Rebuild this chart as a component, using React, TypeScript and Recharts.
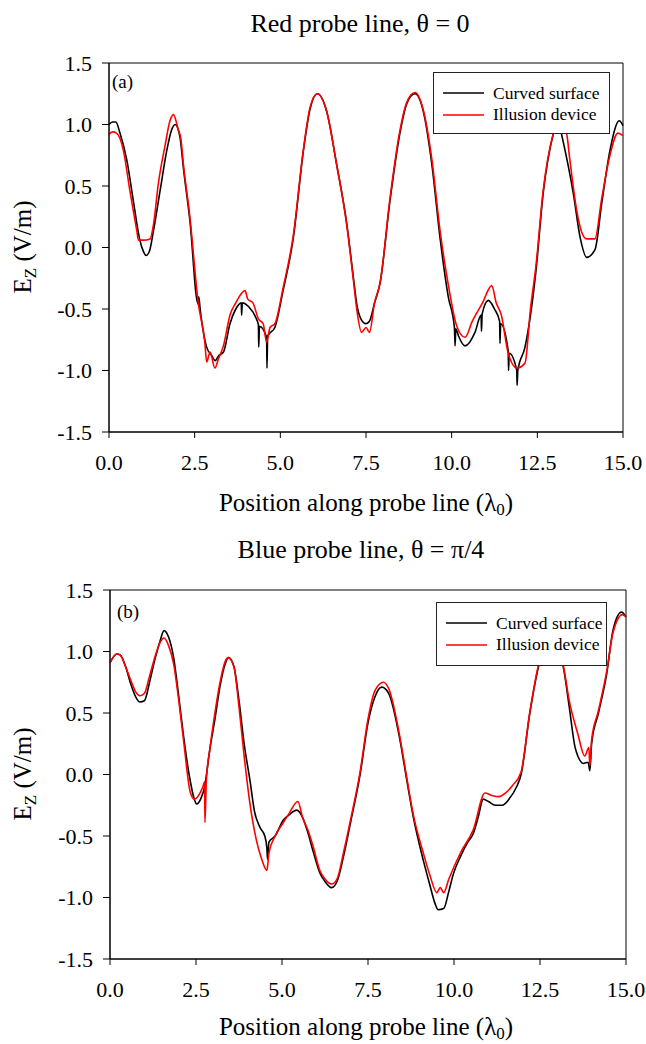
import React from "react";
import { LineChart, Line, XAxis, YAxis, ReferenceArea } from "recharts";

const X_TICKS = [0, 2.5, 5, 7.5, 10, 12.5, 15];
const Y_TICKS = [-1.5, -1, -0.5, 0, 0.5, 1, 1.5];
const SERIES_NAMES = ["Curved surface", "Illusion device"];
const SERIES_COLORS = ["#000000", "#ff0000"];
const PANEL_TITLES = ["Red probe line, \u03b8 = 0", "Blue probe line, \u03b8 = \u03c0/4"];
const PANEL_TAGS = ["(a)", "(b)"];

// Panel (a): red probe line, theta = 0
const redLineCurved: [number, number][] = [
  [0, 1.0], [0.1, 1.02], [0.2, 1.02], [0.32, 0.93], [0.52, 0.71], [0.71, 0.38], [0.9, 0.06],
  [1.0, -0.03], [1.08, -0.065], [1.18, -0.03], [1.3, 0.14], [1.49, 0.46], [1.68, 0.78],
  [1.82, 0.95], [1.93, 1.0], [2.07, 0.9], [2.17, 0.65], [2.36, 0.22], [2.6, -0.46],
  [2.62, -0.4], [2.66, -0.5], [2.85, -0.81], [3.0, -0.88], [3.1, -0.92], [3.2, -0.88],
  [3.34, -0.85], [3.53, -0.62], [3.7, -0.5], [3.86, -0.45], [3.87, -0.55], [3.89, -0.45],
  [4.07, -0.48], [4.3, -0.58], [4.36, -0.63], [4.37, -0.81], [4.39, -0.64], [4.6, -0.73],
  [4.61, -0.98], [4.63, -0.72], [4.84, -0.65], [5.08, -0.35], [5.38, 0.08], [5.67, 0.78],
  [5.87, 1.13], [6.08, 1.25], [6.35, 1.11], [6.64, 0.68], [6.94, 0.19], [7.13, -0.24],
  [7.23, -0.46], [7.37, -0.59], [7.5, -0.62], [7.6, -0.6], [7.75, -0.45], [7.91, -0.29],
  [8.2, 0.38], [8.49, 0.93], [8.69, 1.17], [8.93, 1.25], [9.17, 1.11], [9.42, 0.68],
  [9.66, 0.08], [9.9, -0.4], [10.08, -0.65], [10.1, -0.8], [10.12, -0.66], [10.2, -0.72],
  [10.39, -0.8], [10.68, -0.69], [10.86, -0.55], [10.87, -0.68], [10.89, -0.54], [11.07, -0.43],
  [11.25, -0.5], [11.4, -0.6], [11.41, -0.78], [11.43, -0.62], [11.65, -0.84], [11.66, -1.0],
  [11.68, -0.86], [11.9, -1.0], [11.91, -1.12], [11.93, -1.0], [12.14, -0.81], [12.46, -0.19],
  [12.67, 0.44], [12.97, 0.93], [13.1, 1.05], [13.2, 0.93], [13.55, 0.44], [13.75, 0.08],
  [13.94, -0.08], [14.18, -0.02], [14.38, 0.36], [14.62, 0.79], [14.89, 1.03], [15, 0.99],
];

const redLineIllusion: [number, number][] = [
  [0, 0.92], [0.1, 0.94], [0.22, 0.93], [0.42, 0.79], [0.61, 0.46], [0.81, 0.14], [0.86, 0.06],
  [1.0, 0.06], [1.2, 0.07], [1.3, 0.19], [1.44, 0.52], [1.63, 0.82], [1.78, 1.03], [1.88, 1.08],
  [2.02, 0.96], [2.1, 0.88], [2.17, 0.68], [2.36, 0.25], [2.6, -0.44], [2.8, -0.78], [2.85, -0.93],
  [2.95, -0.85], [3.09, -0.98], [3.2, -0.9], [3.34, -0.8], [3.53, -0.55], [3.7, -0.45],
  [3.85, -0.38], [3.97, -0.35], [4.05, -0.42], [4.2, -0.45], [4.36, -0.58], [4.5, -0.62],
  [4.6, -0.77], [4.7, -0.65], [4.84, -0.62], [5.08, -0.33], [5.38, 0.1], [5.67, 0.79],
  [5.87, 1.14], [6.08, 1.25], [6.35, 1.11], [6.64, 0.68], [6.94, 0.18], [7.13, -0.26],
  [7.23, -0.5], [7.37, -0.69], [7.5, -0.65], [7.6, -0.69], [7.75, -0.45], [7.91, -0.29],
  [8.2, 0.4], [8.49, 0.95], [8.69, 1.18], [8.93, 1.26], [9.17, 1.12], [9.42, 0.72],
  [9.66, 0.14], [9.9, -0.3], [10.15, -0.64], [10.39, -0.73], [10.6, -0.6], [10.9, -0.45],
  [11.17, -0.31], [11.3, -0.45], [11.45, -0.55], [11.65, -0.86], [11.9, -0.98], [12.14, -0.94],
  [12.3, -0.5], [12.46, -0.15], [12.67, 0.46], [12.97, 0.93], [13.1, 1.03], [13.35, 0.93],
  [13.45, 0.71], [13.65, 0.3], [13.8, 0.12], [13.94, 0.07], [14.18, 0.07], [14.38, 0.4],
  [14.62, 0.75], [14.85, 0.93], [15, 0.91],
];

// Panel (b): blue probe line, theta = pi/4
const blueLineCurved: [number, number][] = [
  [0, 0.91], [0.2, 0.98], [0.3, 0.97], [0.45, 0.88], [0.6, 0.74], [0.75, 0.63], [0.87, 0.59],
  [1.0, 0.6], [1.15, 0.75], [1.3, 0.93], [1.45, 1.08], [1.57, 1.17], [1.7, 1.12], [1.85, 0.95],
  [2.0, 0.63], [2.13, 0.33], [2.3, 0.0], [2.45, -0.2], [2.52, -0.24], [2.65, -0.19],
  [2.75, -0.1], [2.9, 0.2], [3.05, 0.45], [3.2, 0.72], [3.35, 0.9], [3.44, 0.95], [3.6, 0.88],
  [3.75, 0.6], [3.9, 0.25], [4.07, -0.05], [4.2, -0.3], [4.36, -0.43], [4.5, -0.5],
  [4.56, -0.6], [4.58, -0.69], [4.62, -0.55], [4.8, -0.5], [5.04, -0.37], [5.2, -0.33],
  [5.43, -0.29], [5.6, -0.35], [5.75, -0.47], [5.9, -0.62], [6.1, -0.8], [6.25, -0.87],
  [6.44, -0.92], [6.6, -0.87], [6.8, -0.65], [7.0, -0.38], [7.27, 0.0], [7.5, 0.42],
  [7.7, 0.63], [7.9, 0.71], [8.1, 0.66], [8.43, 0.28], [8.6, 0.0], [8.82, -0.35], [9.11, -0.7],
  [9.3, -0.9], [9.45, -1.05], [9.54, -1.1], [9.7, -1.09], [9.85, -0.95], [9.98, -0.81],
  [10.2, -0.66], [10.4, -0.55], [10.56, -0.48], [10.7, -0.35], [10.85, -0.2], [11.0, -0.22],
  [11.2, -0.25], [11.4, -0.25], [11.6, -0.2], [11.82, -0.1], [11.95, 0.0], [12.2, 0.49],
  [12.45, 0.87], [12.8, 1.12], [13.18, 0.87], [13.35, 0.55], [13.52, 0.22], [13.6, 0.15],
  [13.76, 0.09], [13.9, 0.1], [13.95, 0.03], [14.0, 0.25], [14.2, 0.5], [14.44, 0.82],
  [14.62, 1.17], [14.87, 1.32], [15, 1.28],
];

const blueLineIllusion: [number, number][] = [
  [0, 0.91], [0.2, 0.98], [0.3, 0.97], [0.45, 0.88], [0.6, 0.77], [0.75, 0.67], [0.87, 0.64],
  [1.0, 0.66], [1.15, 0.8], [1.3, 0.95], [1.45, 1.07], [1.57, 1.11], [1.7, 1.05], [1.85, 0.9],
  [2.0, 0.6], [2.15, 0.25], [2.33, -0.14], [2.45, -0.2], [2.55, -0.18], [2.7, -0.1],
  [2.75, -0.06], [2.76, -0.39], [2.8, -0.05], [2.9, 0.2], [3.05, 0.5], [3.2, 0.75],
  [3.35, 0.92], [3.44, 0.95], [3.6, 0.88], [3.75, 0.55], [3.9, 0.15], [4.05, -0.2],
  [4.26, -0.54], [4.4, -0.68], [4.56, -0.78], [4.62, -0.64], [4.8, -0.5], [5.04, -0.39],
  [5.2, -0.32], [5.46, -0.22], [5.6, -0.35], [5.75, -0.45], [5.9, -0.58], [6.1, -0.78],
  [6.25, -0.85], [6.44, -0.89], [6.6, -0.85], [6.8, -0.62], [7.0, -0.36], [7.27, 0.02],
  [7.5, 0.45], [7.7, 0.68], [7.95, 0.75], [8.1, 0.7], [8.43, 0.3], [8.6, 0.02], [8.82, -0.33],
  [9.11, -0.64], [9.3, -0.82], [9.5, -0.96], [9.6, -0.92], [9.7, -0.96], [9.85, -0.85],
  [10.2, -0.63], [10.56, -0.45], [10.9, -0.15], [11.1, -0.17], [11.3, -0.18], [11.5, -0.15],
  [11.7, -0.09], [11.95, 0.02], [12.2, 0.5], [12.45, 0.88], [12.8, 1.12], [13.18, 0.88],
  [13.35, 0.6], [13.6, 0.33], [13.8, 0.15], [13.92, 0.22], [13.95, 0.07], [14.0, 0.28],
  [14.2, 0.52], [14.44, 0.84], [14.62, 1.15], [14.9, 1.3], [15, 1.28],
];

const FONT = '"Liberation Serif", "Times New Roman", serif';
const toPoints = (arr: [number, number][]) => arr.map(([x, y]) => ({ x, y }));
const fmt = (v: number) => v.toFixed(1);

type PanelProps = {
  top: number;
  height: number;
  margin: { top: number; right: number; bottom: number; left: number };
  curved: [number, number][];
  illusion: [number, number][];
  title: string;
  tag: string;
  titleTop: number;
  titleCenter: number;
  xLabelTop: number;
  yLabelCenter: number;
  tagPos: { left: number; top: number };
  legendBox: { left: number; top: number; width: number; height: number };
};

function Legend2({ box }: { box: PanelProps["legendBox"] }) {
  return (
    <div
      style={{
        position: "absolute",
        left: box.left,
        top: box.top,
        width: box.width,
        height: box.height,
        border: "1px solid #222",
        background: "#fff",
        boxSizing: "border-box",
        fontFamily: FONT,
        fontSize: 17.5,
        color: "#000",
      }}
    >
      {SERIES_NAMES.map((name, i) => (
        <div
          key={name}
          style={{
            position: "absolute",
            left: 9,
            top: 9 + i * 21.5,
            height: 22,
            display: "flex",
            alignItems: "center",
            whiteSpace: "nowrap",
          }}
        >
          <svg width={41} height={4} style={{ marginRight: 9 }}>
            <line x1={0} y1={2} x2={41} y2={2} stroke={SERIES_COLORS[i]} strokeWidth={1.6} />
          </svg>
          <span>{name}</span>
        </div>
      ))}
    </div>
  );
}

function Panel(p: PanelProps) {
  const tickStyle = { fontSize: 22, fill: "#000", fontFamily: FONT, style: { fontFamily: FONT } };
  return (
    <>
      <div style={{ position: "absolute", left: 0, top: p.top }}>
        <LineChart width={646} height={p.height} margin={p.margin} style={{ fontFamily: FONT }}>
          <XAxis
            dataKey="x"
            type="number"
            domain={[0, 15]}
            ticks={X_TICKS}
            interval={0}
            tickFormatter={fmt}
            height={30}
            tickSize={6}
            tickMargin={16}
            stroke="#000"
            tick={tickStyle}
            allowDuplicatedCategory={false}
          />
          <YAxis
            type="number"
            domain={[-1.5, 1.5]}
            ticks={Y_TICKS}
            interval={0}
            tickFormatter={fmt}
            width={60}
            tickSize={7}
            tickMargin={10}
            stroke="#000"
            tick={tickStyle}
          />
          <ReferenceArea x1={0} x2={15} y1={-1.5} y2={1.5} fill="none" stroke="#000" strokeWidth={1} ifOverflow="visible" />
          <Line
            data={toPoints(p.curved)}
            dataKey="y"
            name={SERIES_NAMES[0]}
            type="monotone"
            stroke={SERIES_COLORS[0]}
            strokeWidth={1.6}
            dot={false}
            isAnimationActive={false}
          />
          <Line
            data={toPoints(p.illusion)}
            dataKey="y"
            name={SERIES_NAMES[1]}
            type="monotone"
            stroke={SERIES_COLORS[1]}
            strokeWidth={1.6}
            dot={false}
            isAnimationActive={false}
          />
        </LineChart>
      </div>
      <div
        style={{
          position: "absolute",
          left: p.titleCenter - 200,
          width: 400,
          top: p.titleTop,
          textAlign: "center",
          fontSize: 26,
          lineHeight: "26px",
          fontFamily: FONT,
          whiteSpace: "nowrap",
        }}
      >
        {p.title}
      </div>
      <div
        style={{
          position: "absolute",
          left: p.tagPos.left,
          top: p.tagPos.top,
          fontSize: 19,
          lineHeight: "20px",
          fontFamily: FONT,
        }}
      >
        {p.tag}
      </div>
      <div
        style={{
          position: "absolute",
          left: 366 - 200,
          width: 400,
          top: p.xLabelTop,
          textAlign: "center",
          fontSize: 25,
          lineHeight: "25px",
          fontFamily: FONT,
          whiteSpace: "nowrap",
        }}
      >
        Position along probe line (&lambda;<span style={{ fontSize: 17, verticalAlign: "-4px" }}>0</span>)
      </div>
      <div
        style={{
          position: "absolute",
          left: 23 - 80,
          top: p.yLabelCenter - 15,
          width: 160,
          height: 30,
          lineHeight: "30px",
          textAlign: "center",
          fontSize: 25,
          fontFamily: FONT,
          transform: "rotate(-90deg)",
          whiteSpace: "nowrap",
        }}
      >
        E<span style={{ fontSize: 17, verticalAlign: "-5px" }}>Z</span> (V/m)
      </div>
      <Legend2 box={p.legendBox} />
    </>
  );
}

export default function App() {
  return (
    <div
      style={{
        position: "absolute",
        left: 0,
        top: 0,
        width: 646,
        height: 1044,
        background: "#fff",
        overflow: "hidden",
        fontFamily: FONT,
      }}
    >
      <Panel
        top={0}
        height={520}
        margin={{ top: 63, right: 23, left: 49, bottom: 58 }}
        curved={redLineCurved}
        illusion={redLineIllusion}
        title={PANEL_TITLES[0]}
        tag={PANEL_TAGS[0]}
        titleTop={11}
        titleCenter={360}
        xLabelTop={490}
        yLabelCenter={247}
        tagPos={{ left: 112, top: 72 }}
        legendBox={{ left: 433, top: 72, width: 177, height: 62 }}
      />
      <Panel
        top={520}
        height={524}
        margin={{ top: 70, right: 20, left: 50, bottom: 55 }}
        curved={blueLineCurved}
        illusion={blueLineIllusion}
        title={PANEL_TITLES[1]}
        tag={PANEL_TAGS[1]}
        titleTop={537}
        titleCenter={361}
        xLabelTop={1014}
        yLabelCenter={774}
        tagPos={{ left: 117, top: 602 }}
        legendBox={{ left: 436, top: 602, width: 171, height: 64 }}
      />
    </div>
  );
}
